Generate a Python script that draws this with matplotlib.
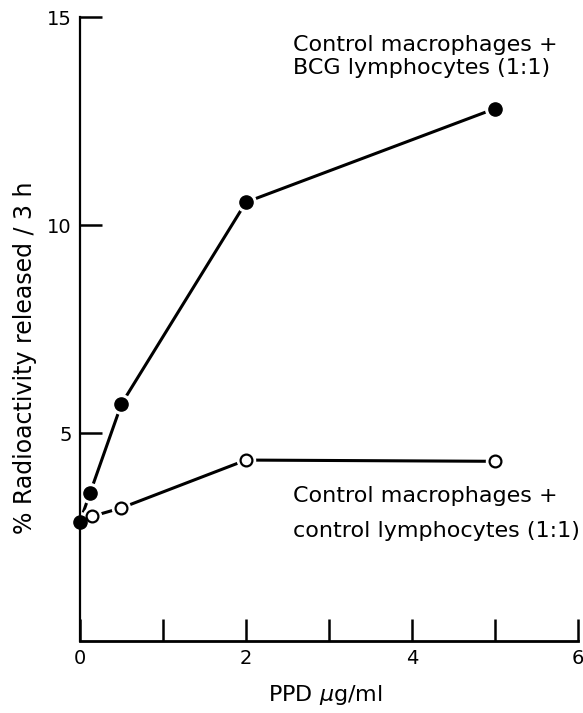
import matplotlib.pyplot as plt

# PPD dose (ug/ml) and % radioactivity released / 3 h
bcg_x = [0, 0.12, 0.5, 2, 5]
bcg_y = [2.87, 3.55, 5.7, 10.55, 12.8]
ctl_x = [0.15, 0.5, 2, 5]
ctl_y = [3.0, 3.2, 4.35, 4.32]

x_ticks = [0, 1, 2, 3, 4, 5, 6]
x_labels = ['0', '', '2', '', '4', '', '6']
y_ticks = [5, 10, 15]
y_labels = ['5', '10', '15']

plt.rcParams['font.family'] = ['DejaVu Sans']

fig = plt.figure(figsize=(5.83, 7.13), dpi=100)
ax = fig.add_axes([0.1372, 0.101, 0.8542, 0.875])

# lines first, then a white halo so the segments stop short of the dots
ax.plot(bcg_x, bcg_y, color='black', linewidth=2.2, zorder=1)
ax.plot(ctl_x, ctl_y, color='black', linewidth=2.2, zorder=1)
ax.plot(bcg_x, bcg_y, linestyle='none', marker='o', markersize=14,
        markerfacecolor='white', markeredgecolor='white', zorder=2, clip_on=False)
ax.plot(ctl_x, ctl_y, linestyle='none', marker='o', markersize=13,
        markerfacecolor='white', markeredgecolor='white', zorder=2, clip_on=False)
ax.plot(bcg_x, bcg_y, linestyle='none', marker='o', markersize=9.5,
        markerfacecolor='black', markeredgecolor='black', zorder=3, clip_on=False)
ax.plot(ctl_x, ctl_y, linestyle='none', marker='o', markersize=8.5,
        markerfacecolor='white', markeredgecolor='black', markeredgewidth=1.6,
        zorder=4, clip_on=False)

ax.set_xlim(0, 6)
ax.set_ylim(0, 15)
ax.spines['top'].set_visible(False)
ax.spines['right'].set_visible(False)
ax.spines['left'].set_linewidth(1.6)
ax.spines['bottom'].set_linewidth(2.0)

ax.set_xticks(x_ticks)
ax.set_xticklabels(x_labels)
ax.set_yticks(y_ticks)
ax.set_yticklabels(y_labels)
ax.tick_params(axis='both', direction='in', length=16, width=1.8,
               labelsize=14, pad=6)

fig.text(325 / 583, 0.025, 'PPD $\\mu$g/ml', fontsize=16,
         ha='center', va='center')
fig.text(25 / 583, 1 - 358 / 713, '% Radioactivity released / 3 h',
         fontsize=17, rotation=90, ha='center', va='center')

# curve labels, one text per line (baselines)
fig.text(293 / 583, 1 - 51 / 713, 'Control macrophages +', fontsize=16,
         ha='left', va='baseline')
fig.text(293 / 583, 1 - 74 / 713, 'BCG lymphocytes (1:1)', fontsize=16,
         ha='left', va='baseline')
fig.text(293 / 583, 1 - 502 / 713, 'Control macrophages +', fontsize=16,
         ha='left', va='baseline')
fig.text(293 / 583, 1 - 537 / 713, 'control lymphocytes (1:1)', fontsize=16,
         ha='left', va='baseline')

fig.savefig('out.png', dpi=100)
